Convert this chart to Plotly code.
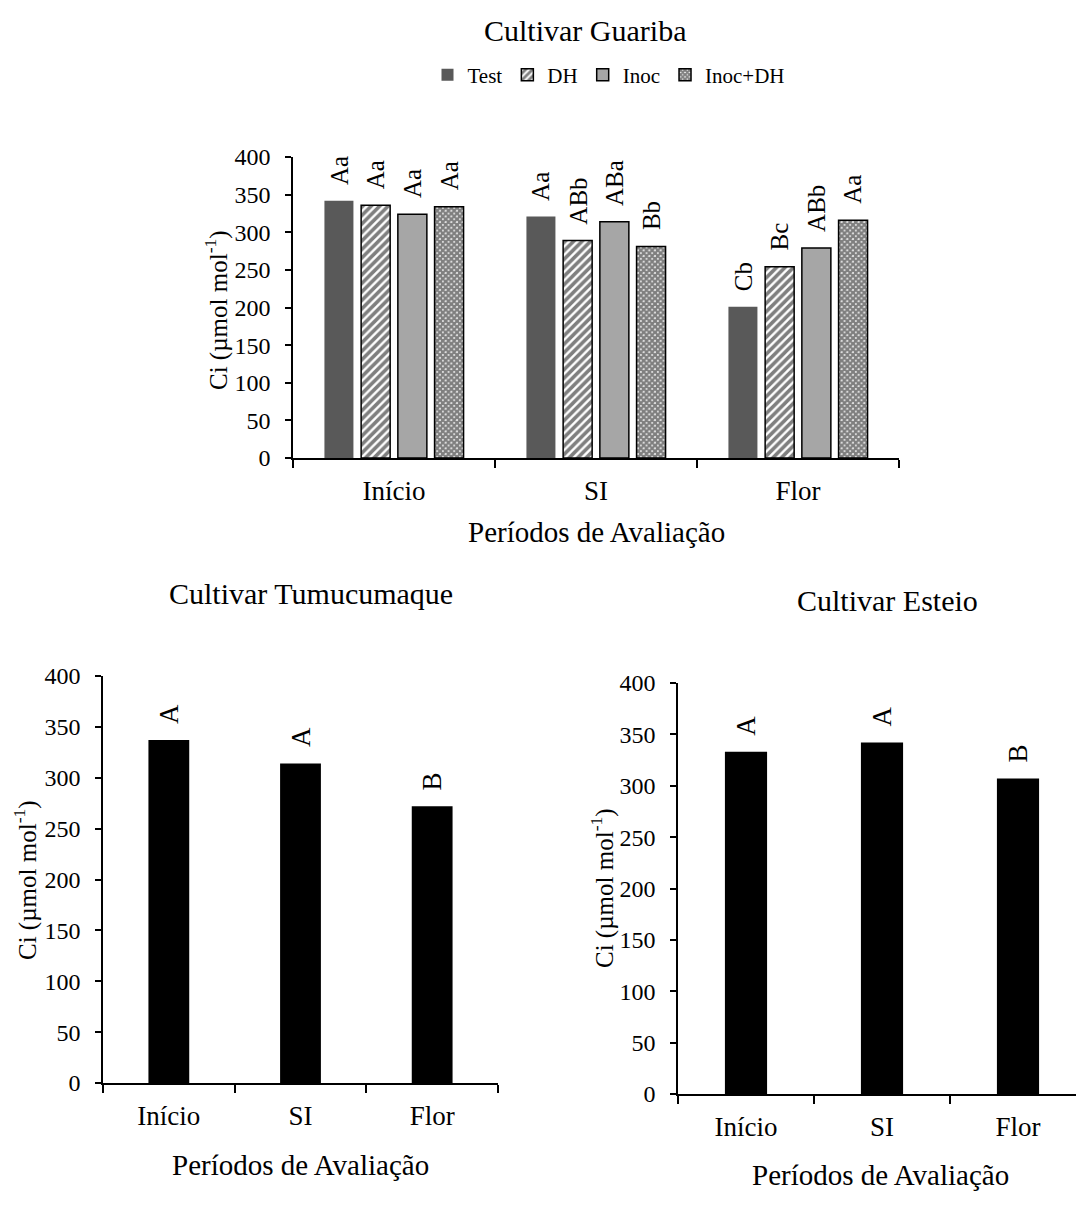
import plotly.graph_objects as go

# ---- data -------------------------------------------------------------
periods = ["Início", "SI", "Flor"]
treatments = ["Test", "DH", "Inoc", "Inoc+DH"]

# Cultivar Guariba: Ci per treatment and period
guariba_test = [342, 321, 201]
guariba_dh = [336, 289, 254]
guariba_inoc = [324, 314, 279]
guariba_inoc_dh = [334, 281, 316]

guariba_test_lbl = ["Aa", "Aa", "Cb"]
guariba_dh_lbl = ["Aa", "ABb", "Bc"]
guariba_inoc_lbl = ["Aa", "ABa", "ABb"]
guariba_inoc_dh_lbl = ["Aa", "Bb", "Aa"]

# Cultivar Tumucumaque and Esteio: Ci per period
tumucumaque = [337, 314, 272]
tumucumaque_lbl = ["A", "A", "B"]
esteio = [333, 342, 307]
esteio_lbl = ["A", "A", "B"]

y_ticks = [0, 50, 100, 150, 200, 250, 300, 350, 400]

# ---- page geometry (pixels) ------------------------------------------
W, H = 1076, 1211
FONT = "Liberation Serif"


def px_x(x):
    return x / W


def px_y(y):
    return 1 - y / H


def f(size):
    return dict(family=FONT, size=size, color="black")


fig = go.Figure()

# grouped bars, Guariba
series = [
    (guariba_test, guariba_test_lbl, dict(color="#595959", line=dict(width=0))),
    (guariba_dh, guariba_dh_lbl, dict(color="white", line=dict(color="black", width=1.5),
                                      pattern=dict(shape="/", fgcolor="black", bgcolor="white",
                                                   size=6, solidity=0.6))),
    (guariba_inoc, guariba_inoc_lbl, dict(color="#A6A6A6", line=dict(color="black", width=1.5))),
    (guariba_inoc_dh, guariba_inoc_dh_lbl, dict(color="white", line=dict(color="black", width=1.5),
                                                pattern=dict(shape="x", fgcolor="black", bgcolor="white",
                                                             size=4, solidity=0.85))),
]
for name, (vals, _, marker) in zip(treatments, series):
    fig.add_trace(go.Bar(x=periods, y=vals, name=name, marker=marker,
                         xaxis="x", yaxis="y", showlegend=True))

fig.add_trace(go.Bar(x=periods, y=tumucumaque, width=0.31, marker=dict(color="black", line=dict(width=0)),
                     xaxis="x2", yaxis="y2", showlegend=False))
fig.add_trace(go.Bar(x=periods, y=esteio, width=0.31, marker=dict(color="black", line=dict(width=0)),
                     xaxis="x3", yaxis="y3", showlegend=False))

BARGAP = 0.273
slot = (1 - BARGAP) / 4

annotations = []
# letters over grouped bars
for j, (vals, lbls, _) in enumerate(series):
    for i, (v, t) in enumerate(zip(vals, lbls)):
        annotations.append(dict(x=i + (j - 1.5) * slot, y=v, xref="x", yref="y", text=t,
                                textangle=-90, showarrow=False, xanchor="center",
                                yanchor="bottom", yshift=14, font=f(25)))
for i, (v, t) in enumerate(zip(tumucumaque, tumucumaque_lbl)):
    annotations.append(dict(x=i, y=v, xref="x2", yref="y2", text=t, textangle=-90,
                            showarrow=False, xanchor="center", yanchor="bottom", yshift=14,
                            font=f(27)))
for i, (v, t) in enumerate(zip(esteio, esteio_lbl)):
    annotations.append(dict(x=i, y=v, xref="x3", yref="y3", text=t, textangle=-90,
                            showarrow=False, xanchor="center", yanchor="bottom", yshift=14,
                            font=f(27)))


# titles and axis titles
def text(x, y, s, size, angle=0):
    annotations.append(dict(x=px_x(x), y=px_y(y), xref="paper", yref="paper", text=s,
                            showarrow=False, xanchor="center", yanchor="middle",
                            textangle=angle, font=f(size)))


ci_title = "Ci (µmol mol<sup>-1</sup>)"
text(585, 30, "Cultivar Guariba", 30)
text(596, 532, "Períodos de Avaliação", 29)
text(217, 310, ci_title, 25, -90)

text(311, 593, "Cultivar Tumucumaque", 30)
text(300, 1165, "Períodos de Avaliação", 29)
text(25, 880, ci_title, 25, -90)

text(887, 600, "Cultivar Esteio", 30)
text(880, 1175, "Períodos de Avaliação", 29)
text(602, 888, ci_title, 25, -90)

xcommon = dict(type="category", showgrid=False, showline=True, linecolor="black", linewidth=1.5,
               ticks="outside", ticklen=8, tickwidth=1.5, tickcolor="black", tickson="boundaries",
               tickfont=f(27), ticklabelstandoff=8, zeroline=False)
ycommon = dict(range=[0, 400], tickvals=y_ticks, showgrid=False, showline=True, linecolor="black",
               linewidth=1.5, ticks="outside", ticklen=6, tickwidth=1.5, tickcolor="black",
               tickfont=f(24), ticklabelstandoff=10, zeroline=False)

fig.update_layout(
    width=W, height=H,
    margin=dict(l=0, r=0, t=0, b=0, autoexpand=False),
    paper_bgcolor="white", plot_bgcolor="white",
    font=f(20),
    barmode="group", bargap=BARGAP, bargroupgap=0.21,
    xaxis=dict(xcommon, domain=[px_x(293), px_x(899)], range=[-0.5, 2.5], anchor="y"),
    yaxis=dict(ycommon, domain=[px_y(458), px_y(157)], anchor="x"),
    xaxis2=dict(xcommon, domain=[px_x(103), px_x(498)], range=[-0.5, 2.5], anchor="y2"),
    yaxis2=dict(ycommon, domain=[px_y(1083), px_y(676)], anchor="x2"),
    xaxis3=dict(xcommon, domain=[px_x(678), 1.0], range=[-0.5, -0.5 + (W - 678) / 136], anchor="y3"),
    yaxis3=dict(ycommon, domain=[px_y(1094), px_y(683)], anchor="x3"),
    legend=dict(orientation="h", x=px_x(609), y=px_y(75), xanchor="center", yanchor="middle",
                font=f(21), itemwidth=30, bgcolor="rgba(0,0,0,0)", traceorder="normal"),
    annotations=annotations,
)

fig.write_html("out.html")
